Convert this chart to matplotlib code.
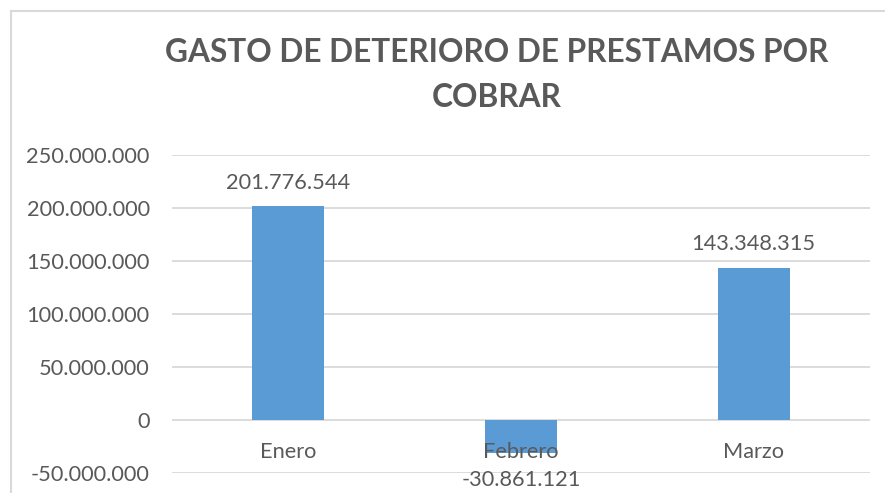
import matplotlib
matplotlib.use("Agg")
import matplotlib.pyplot as plt
from matplotlib.lines import Line2D

categories = ["Enero", "Febrero", "Marzo"]
values = [201776544, -30861121, 143348315]
value_labels = ["201.776.544", "-30.861.121", "143.348.315"]
yticks = [-50000000, 0, 50000000, 100000000, 150000000, 200000000, 250000000]
ytick_labels = ["-50.000.000", "0", "50.000.000", "100.000.000", "150.000.000", "200.000.000", "250.000.000"]
title = "GASTO DE DETERIORO DE PRESTAMOS POR\nCOBRAR"

W, H = 885, 493
plt.rcParams['font.family'] = ['Lato', 'DejaVu Sans']
txt = "#595959"
grid = "#D9D9D9"
fs = 15.7

fig = plt.figure(figsize=(W/100, H/100), dpi=100)
ax = fig.add_axes([172/W, (H-473)/H, (870-172)/W, (473-155)/H])
ax.set_xlim(-0.5, 2.5)
ax.set_ylim(-50000000, 250000000)
ax.bar(range(len(categories)), values, width=0.31, color="#5B9BD5", zorder=3)

ax.set_yticks(yticks)
ax.set_yticklabels(ytick_labels, fontsize=fs, color=txt)
ax.tick_params(axis='y', length=0, pad=16)
ax.set_xticks([])
ax.grid(axis='y', color=grid, linewidth=1.3, zorder=0)
for s in ax.spines.values():
    s.set_visible(False)

for i, c in enumerate(categories):
    ax.annotate(c, (i, 0), xytext=(0, -23), textcoords='offset points',
                ha='center', va='center', fontsize=fs, color=txt, zorder=4)

for i, (v, lab) in enumerate(zip(values, value_labels)):
    off = 17 if v >= 0 else -20
    ax.annotate(lab, (i, v), xytext=(0, off), textcoords='offset points',
                ha='center', va='center', fontsize=fs, color=txt, zorder=4)

title_lines = title.split("\n")
fig.text(497/W, 1 - 52/H, title_lines[0], ha='center', va='center',
         fontsize=22.8, fontweight='bold', color=txt)
fig.text(497/W, 1 - 97/H, title_lines[1], ha='center', va='center',
         fontsize=22.8, fontweight='bold', color=txt)

fig.add_artist(Line2D([11/W, 11/W], [0, 1 - 11/H], transform=fig.transFigure, color=grid, linewidth=1.5))
fig.add_artist(Line2D([11/W, 1], [1 - 11/H, 1 - 11/H], transform=fig.transFigure, color=grid, linewidth=1.5))

fig.savefig("out.png", dpi=100)
